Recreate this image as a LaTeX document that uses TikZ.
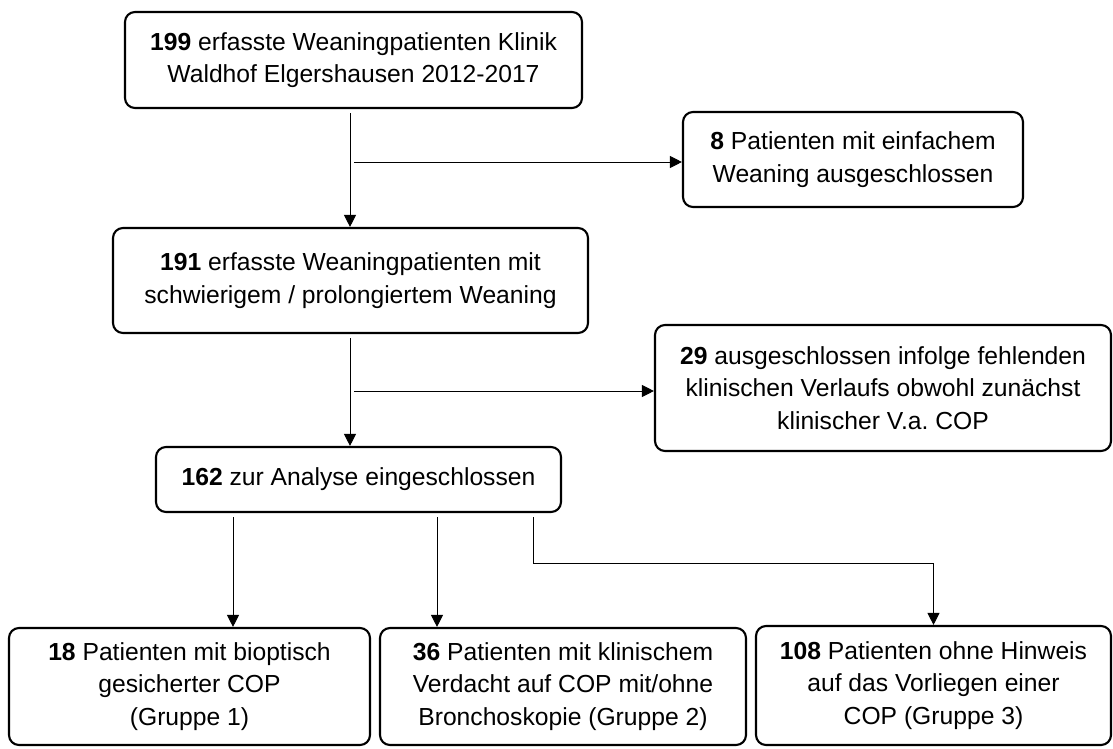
\documentclass[tikz,border=0pt]{standalone}
\usepackage{fontspec}
\setmainfont{Liberation Sans}
\usetikzlibrary{arrows.meta}
\frenchspacing

\begin{document}
\begin{tikzpicture}[x=0.75pt,y=0.75pt,yscale=-1,xscale=1,
  box/.style={draw,line width=1.6pt,rounded corners=7.5pt,align=center,inner sep=0pt,font=\fontsize{18.5pt}{24.5pt}\selectfont},
  pfeil/.style={line width=0.75pt,shorten <=3pt,-{Triangle[length=9pt,width=9pt]}}]
\useasboundingbox (0,0) rectangle (1113,749);
\node[box,minimum width=342.75pt,minimum height=72pt] (n199) at (353.5,60) {\textbf{199} erfasste Weaningpatienten Klinik\\Waldhof Elgershausen 2012-2017};
\node[box,minimum width=255pt,minimum height=71.25pt] (n8) at (853,159.5) {\textbf{8} Patienten mit einfachem\\Weaning ausgeschlossen};
\node[box,minimum width=356.25pt,minimum height=78.75pt] (n191) at (350.5,280.5) {\textbf{191} erfasste Weaningpatienten mit\\schwierigem / prolongiertem Weaning};
\node[box,minimum width=342pt,minimum height=94.5pt] (n29) at (883,388) {\textbf{29} ausgeschlossen infolge fehlenden\\klinischen Verlaufs obwohl zunächst\\klinischer V.a. COP};
\node[box,minimum width=303.75pt,minimum height=48.75pt] (n162) at (358.5,479.5) {\textbf{162} zur Analyse eingeschlossen};
\node[box,minimum width=270.75pt,minimum height=87.75pt] (g1) at (189.5,686.5) {\textbf{18} Patienten mit bioptisch\\gesicherter COP\\(Gruppe 1)};
\node[box,minimum width=274.5pt,minimum height=87.75pt] (g2) at (563,686.5) {\textbf{36} Patienten mit klinischem\\Verdacht auf COP mit/ohne\\Bronchoskopie (Gruppe 2)};
\node[box,minimum width=266.25pt,minimum height=89.25pt] (g3) at (933.5,685.5) {\textbf{108} Patienten ohne Hinweis\\auf das Vorliegen einer\\COP (Gruppe 3)};
% Verzweigungen
\coordinate (k1) at (350,162);
\coordinate (k2) at (350,391);
\coordinate (k3) at (233,0);
\coordinate (k4) at (437,0);
\coordinate (k5) at (533,563);
\draw[pfeil] (n199.south -| k1) -- (n191.north -| k1);
\draw[pfeil] (k1) -- (k1 -| n8.west);
\draw[pfeil] (n191.south -| k2) -- (n162.north -| k2);
\draw[pfeil] (k2) -- (k2 -| n29.west);
\draw[pfeil] (n162.south -| k3) -- (g1.north -| k3);
\draw[pfeil] (n162.south -| k4) -- (g2.north -| k4);
\draw[pfeil] (n162.south -| k5) -- (k5) -| (g3.north);
\end{tikzpicture}
\end{document}
